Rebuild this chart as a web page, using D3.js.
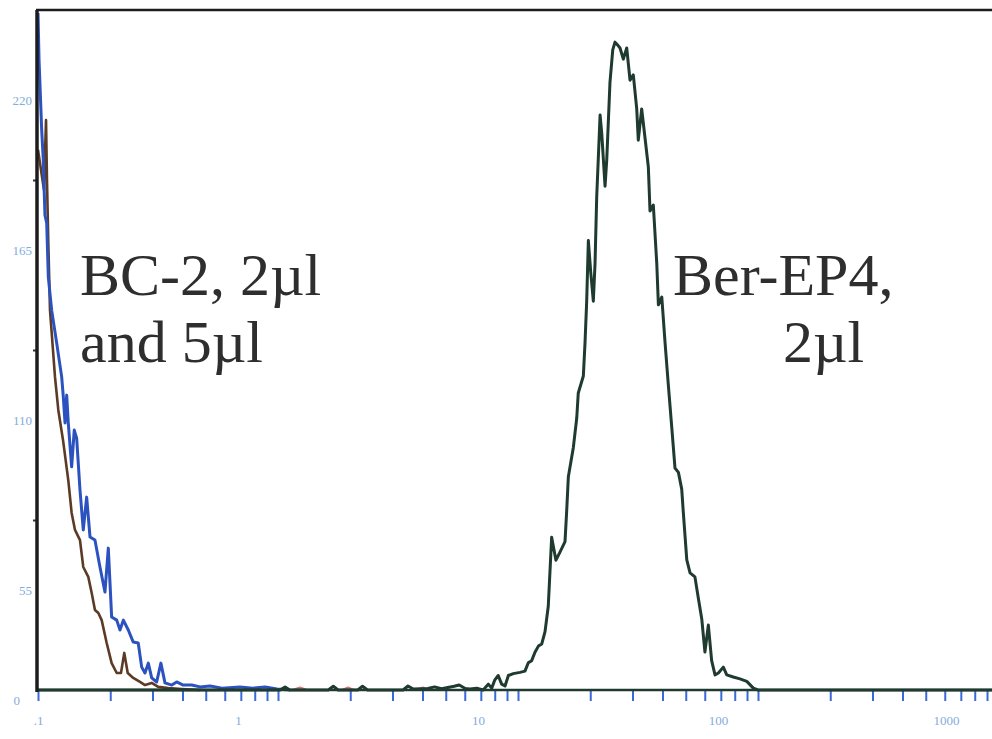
<!DOCTYPE html>
<html>
<head>
<meta charset="utf-8">
<script src="https://cdn.jsdelivr.net/npm/d3@7"></script>
<style>
  body { margin: 0; background: #fff; }
  svg { display: block; }
  .axis-label text { fill: #84acdc; font-family: "Liberation Serif", serif; font-size: 13px; }
  .axis-label path { display: none; }
  .note { font-family: "Liberation Serif", serif; font-size: 60px; fill: #2e2e2e; }
</style>
</head>
<body>
<svg></svg>
<script>
// histogram channels: [fluorescence, count]
var blueCounts = [
  [0.1000,219],[0.1010,203.8],[0.1036,181.2],[0.1052,171.5],[0.1059,164.0],[0.1069,153.6],
  [0.1087,151.1],[0.1104,133.6],[0.1140,122.9],[0.1196,112.3],[0.1255,101.3],[0.1275,94.8],
  [0.1296,86.4],[0.1317,95.4],[0.1337,86.4],[0.1381,72.2],[0.1416,84.1],[0.1449,81.5],
  [0.1496,64.7],[0.1544,51.8],[0.1595,62.4],[0.1647,49.5],[0.1727,48.5],[0.1812,39.8],
  [0.1901,31.7],[0.1963,45.9],[0.2027,23.6],[0.2128,22.6],[0.2196,19.4],[0.2268,22.6],
  [0.2378,19.4],[0.2494,15.5],[0.2616,15.2],[0.2704,7.4],[0.2791,5.5],[0.2881,8.7],
  [0.2977,3.9],[0.3122,2.6],[0.3251,8.7],[0.3381,2.3],[0.3607,1.6],[0.3783,2.6],
  [0.4026,1.6],[0.4371,1.6],[0.4732,1.0],[0.5209,1.3],[0.5843,0.6],[0.6940,1.0],
  [0.7870,0.6],[0.8833,1.0],[0.9905,0.3],[1.122,0]
];
var brownCounts = [
  [0.1000,174.8],[0.1059,161.8],[0.1080,184.4],[0.1090,165.0],[0.1104,144.6],[0.1122,122.9],
  [0.1177,101.3],[0.1215,90.6],[0.1271,80.9],[0.1337,67.9],[0.1381,57.3],[0.1426,51.8],
  [0.1496,48.5],[0.1544,39.8],[0.1620,36.6],[0.1674,31.4],[0.1727,25.9],[0.1784,24.9],
  [0.1842,22.6],[0.1933,15.2],[0.2027,8.7],[0.2128,5.5],[0.2217,5.5],[0.2288,12.0],
  [0.2365,5.5],[0.2494,3.9],[0.2661,2.6],[0.2791,1.6],[0.2977,2.3],[0.3168,1.0],
  [0.3491,0.6],[0.3971,0.3],[0.4732,0]
];
var redCounts = [
  [0.1,0],[1.15,0],[1.235,0.8],[1.32,0],[1.85,0],[1.957,0.8],[2.07,0],
  [3.8,0],[4.02,0.8],[4.25,0],[1000,0]
];
var berCounts = [
  [0.1,0],[0.473,0],[1.02,0],[1.07,1.0],[1.12,0],[1.62,0],[1.70,1.2],[1.78,0],
  [2.15,0],[2.25,1.2],[2.36,0],[3.32,0],[3.48,1.3],[3.66,0.3],[4.21,0.5],[4.49,1.0],
  [4.80,0.4],[5.42,1.2],[5.69,1.6],[6.03,0.5],
  [6.31,0.3],[6.73,0.6],[7.16,0],[7.52,1.9],[7.77,0.6],[8.01,3.3],[8.27,4.7],[8.55,1.9],
  [8.83,1.3],[9.12,4.7],[9.56,5.3],[10.19,5.7],[10.69,6.1],[11.04,8.8],[11.40,9.5],
  [11.77,12.2],[12.16,14.2],[12.56,14.9],[12.96,18.9],[13.37,27.1],[13.81,49.4],[14.39,42.0],
  [14.96,44.6],[15.70,48.0],[15.96,58.2],[16.21,69.0],[17.00,78.4],[17.57,88.0],[17.83,96.1],
  [18.72,101.6],[19.02,112.3],[19.33,125.8],[19.64,145.4],[20.09,135.2],[20.60,125.8],
  [20.94,138.0],[21.28,159.6],[21.98,186.0],[22.34,179.9],[23.05,163.0],[23.43,171.5],
  [24.17,196.7],[24.82,207.1],[25.36,209.6],[26.18,208.4],[26.61,207.7],[27.47,204.1],
  [28.38,207.7],[29.29,197.3],[30.23,199.0],[31.24,188.0],[31.71,177.9],[32.76,188.0],
  [33.83,178.6],[34.92,169.2],[35.48,155.0],[36.63,156.9],[37.86,138.0],[38.46,124.6],
  [39.73,127.1],[41.0,112.3],[42.3,98.7],[43.7,85.1],[45.1,71.8],[46.6,70.4],[48.1,65.0],
  [48.9,56.9],[50.5,42.1],[52.1,37.9],[54.6,36.6],[56.4,29.8],[58.3,23.0],[60.1,12.3],
  [62.1,21.0],[64.1,9.5],[66.2,4.9],[68.4,5.5],[71.7,7.4],[74.1,4.9],[78.9,4.2],
  [84.1,3.6],[89.8,2.8],[95.6,0.6],[100,0],[1000,0]
];
var xLabels = [0.1, 1, 10, 100, 1000];
var yLabels = [0, 55, 110, 165, 220];

var svgWidth = 992, svgHeight = 739;
var svg = d3.select('svg')
  .attr('width', svgWidth)
  .attr('height', svgHeight);

var x = d3.scaleLog()
  .domain([0.1, 1000])
  .range([38, 998]);
var y = d3.scaleLinear()
  .domain([0, 220])
  .range([690, 10]);

var line = d3.line()
  .x(function(d) { return x(d[0]); })
  .y(function(d) { return y(d[1]); });

// minor log ticks, blue, hanging below the baseline
var minorTicks = x.ticks();
svg.append('g')
  .attr('transform', 'translate(0,' + (y(0) + 1) + ')')
  .call(d3.axisBottom(x).tickValues(minorTicks).tickSize(10).tickFormat(''))
  .call(function(g) {
    g.select('.domain').remove();
    g.selectAll('line').attr('stroke', '#3a6ad6').attr('stroke-width', 2);
  });

// tick labels, printed a bit left of their decade on the original
svg.append('g')
  .attr('class', 'axis-label')
  .attr('transform', 'translate(0,' + (y(0) + 23) + ')')
  .call(d3.axisBottom(x).tickValues(xLabels).tickSize(0)
    .tickFormat(function(d) { return d === 0.1 ? '.1' : d3.format('d')(d); }))
  .selectAll('text')
  .attr('dx', function(d) { return d === 0.1 ? 0 : (d === 1000 ? -52 : -40); });

svg.append('g')
  .attr('class', 'axis-label')
  .attr('transform', 'translate(' + x(0.1) + ',0)')
  .call(d3.axisLeft(y).tickValues(yLabels).tickSize(0).tickPadding(6)
    .tickFormat(d3.format('d')))
  .selectAll('text')
  .attr('font-size', '11px')
  .attr('dy', function(d) { return d === 0 ? 14 : (d === 220 ? 94 : 74); })
  .attr('dx', function(d) { return d === 0 ? -12 : 0; });

// small marks on the count axis
svg.append('g')
  .attr('transform', 'translate(' + x(0.1) + ',0)')
  .call(d3.axisLeft(y).tickValues([55, 110, 165]).tickSize(5).tickFormat(''))
  .call(function(g) {
    g.select('.domain').remove();
    g.selectAll('line').attr('stroke', '#333').attr('stroke-width', 2);
  });

// histograms
var series = [
  { data: redCounts, color: '#e0707a', width: 2 },
  { data: brownCounts, color: '#5b3b26', width: 2.6 },
  { data: blueCounts, color: '#2b52bf', width: 3 },
  { data: berCounts, color: '#1f3a2f', width: 3 }
];
series.forEach(function(s) {
  svg.append('path')
    .datum(s.data)
    .attr('fill', 'none')
    .attr('stroke', s.color)
    .attr('stroke-width', s.width)
    .attr('stroke-linejoin', 'round')
    .attr('d', line);
});

// frame: baseline, left axis, top border
svg.append('line')
  .attr('x1', x(0.1)).attr('x2', svgWidth)
  .attr('y1', y(0)).attr('y2', y(0))
  .attr('stroke', '#1f3a2f').attr('stroke-width', 2.5);
svg.append('line')
  .attr('x1', x(0.1) - 1).attr('x2', x(0.1) - 1)
  .attr('y1', y(220)).attr('y2', y(0) + 2)
  .attr('stroke', '#1c1c1c').attr('stroke-width', 3.5);
svg.append('line')
  .attr('x1', x(0.1) - 2).attr('x2', svgWidth)
  .attr('y1', y(220)).attr('y2', y(220))
  .attr('stroke', '#1c1c1c').attr('stroke-width', 2.5);

// annotations
var notes = [
  { lines: ['BC-2, 2µl', 'and 5µl'], x: 80, y: 295, dx: [0, 0] },
  { lines: ['Ber-EP4,', '2µl'], x: 673, y: 295, dx: [0, 110] }
];
notes.forEach(function(n) {
  n.lines.forEach(function(t, i) {
    svg.append('text')
      .attr('class', 'note')
      .attr('x', n.x + n.dx[i])
      .attr('y', n.y + i * 67)
      .text(t);
  });
});
</script>
</body>
</html>
